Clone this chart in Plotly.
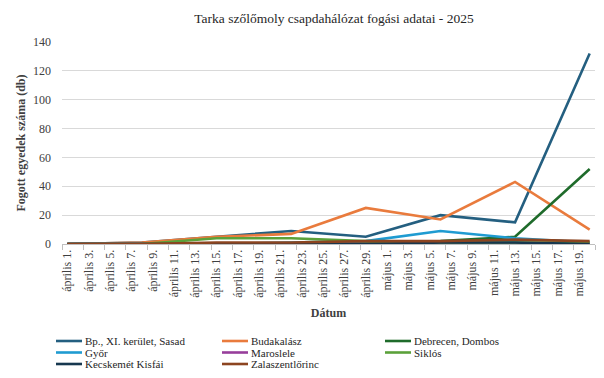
import plotly.graph_objects as go

# ---- data ----
dates = ["2025-04-01", "2025-04-08", "2025-04-15", "2025-04-22",
         "2025-04-29", "2025-05-06", "2025-05-13", "2025-05-20"]

bp_sasad = [0, 1, 5, 9, 5, 20, 15, 132]
budakalasz = [0, 1, 5, 7, 25, 17, 43, 10]
debrecen = [0, 0, 0, 0, 1, 2, 5, 52]
gyor = [0, 0, 0, 1, 2, 9, 4, 1]
maroslele = [0, 0, 0, 0, 0, 0, 0, 0]
siklos = [0, 0, 4, 4, 2, 1, 1, 1]
kecskemet = [0, 0, 0, 0, 0, 1, 1, 0]
zalaszentlorinc = [0, 0, 1, 1, 2, 2, 3, 2]

series_names = ["Bp., XI. kerület, Sasad", "Budakalász", "Debrecen, Dombos",
                "Győr", "Maroslele", "Siklós", "Kecskemét Kisfái", "Zalaszentlőrinc"]
series_values = [bp_sasad, budakalasz, debrecen, gyor, maroslele, siklos,
                 kecskemet, zalaszentlorinc]
colors = ["#245f80", "#e97b3d", "#1f6b2b", "#1f9bd1", "#973e9b", "#5ba13a",
          "#16374f", "#8c4420"]

tick_dates = ["2025-04-01", "2025-04-03", "2025-04-05", "2025-04-07", "2025-04-09",
              "2025-04-11", "2025-04-13", "2025-04-15", "2025-04-17", "2025-04-19",
              "2025-04-21", "2025-04-23", "2025-04-25", "2025-04-27", "2025-04-29",
              "2025-05-01", "2025-05-03", "2025-05-05", "2025-05-07", "2025-05-09",
              "2025-05-11", "2025-05-13", "2025-05-15", "2025-05-17", "2025-05-19"]
tick_labels = ["április 1.", "április 3.", "április 5.", "április 7.", "április 9.",
               "április 11.", "április 13.", "április 15.", "április 17.", "április 19.",
               "április 21.", "április 23.", "április 25.", "április 27.", "április 29.",
               "május 1.", "május 3.", "május 5.", "május 7.", "május 9.",
               "május 11.", "május 13.", "május 15.", "május 17.", "május 19."]

FONT = "Liberation Serif, Times New Roman, DejaVu Serif, serif"

fig = go.Figure()
for name, vals, col in zip(series_names, series_values, colors):
    fig.add_trace(go.Scatter(x=dates, y=vals, name=name, mode="lines",
                             line=dict(color=col, width=2.6), showlegend=False))

# figure is offset by the page's 8px body margin; all pixel positions are figure-relative
W, H = 590, 362
L, R, T, B = 54, 587, 34, 236
pw, ph = R - L, B - T

def px_x(x):
    return (x - L) / pw

def px_y(y):
    return (B - y) / ph

# manual compact legend (3 columns)
text_x = [76, 242, 405]
row_y = [333, 344.5, 356]
shapes = []
annotations = []
for i, (name, col) in enumerate(zip(series_names, colors)):
    tx = text_x[i % 3]
    ry = row_y[i // 3]
    shapes.append(dict(type="line", xref="paper", yref="paper",
                       x0=px_x(tx - 28), x1=px_x(tx - 2), y0=px_y(ry), y1=px_y(ry),
                       line=dict(color=col, width=2.6)))
    annotations.append(dict(xref="paper", yref="paper", x=px_x(tx - 1), y=px_y(ry),
                            text=name, showarrow=False, xanchor="left", yanchor="middle",
                            font=dict(family=FONT, size=11, color="#262626")))

fig.update_layout(
    width=W, height=H,
    margin=dict(l=L, r=W - R, t=T, b=H - B, autoexpand=False),
    paper_bgcolor="white", plot_bgcolor="white",
    title=dict(text="Tarka szőlőmoly csapdahálózat fogási adatai - 2025",
               x=326 / W, xanchor="center", y=1 - 10 / H, yanchor="middle",
               font=dict(family=FONT, size=13.5, color="#262626")),
    font=dict(family=FONT, size=12, color="#404040"),
    shapes=shapes, annotations=annotations,
    xaxis=dict(type="date", range=["2025-03-31 12:00", "2025-05-20 12:00"],
               tickmode="array", tickvals=tick_dates, ticktext=tick_labels,
               tickangle=-90, ticks="", showgrid=False,
               showline=True, linecolor="#bfbfbf", linewidth=1,
               tickfont=dict(family=FONT, size=12, color="#404040"),
               minor=dict(ticks="outside", ticklen=5, tickcolor="#bfbfbf",
                          tickmode="linear", tick0="2025-03-31 12:00",
                          dtick=2 * 86400000, showgrid=False),
               title=dict(text="<b>Dátum</b>", standoff=11,
                          font=dict(family=FONT, size=12, color="#404040")),
               automargin=False, fixedrange=True),
    yaxis=dict(range=[0, 140], dtick=20, showgrid=True, gridcolor="#d9d9d9",
               gridwidth=1, zeroline=False, showline=False, ticks="",
               ticklabelstandoff=10,
               tickfont=dict(family=FONT, size=12, color="#404040"),
               title=dict(text="<b>Fogott egyedek száma (db)</b>", standoff=4,
                          font=dict(family=FONT, size=12, color="#404040")),
               automargin=False, fixedrange=True),
)

fig.write_html("out.html")
